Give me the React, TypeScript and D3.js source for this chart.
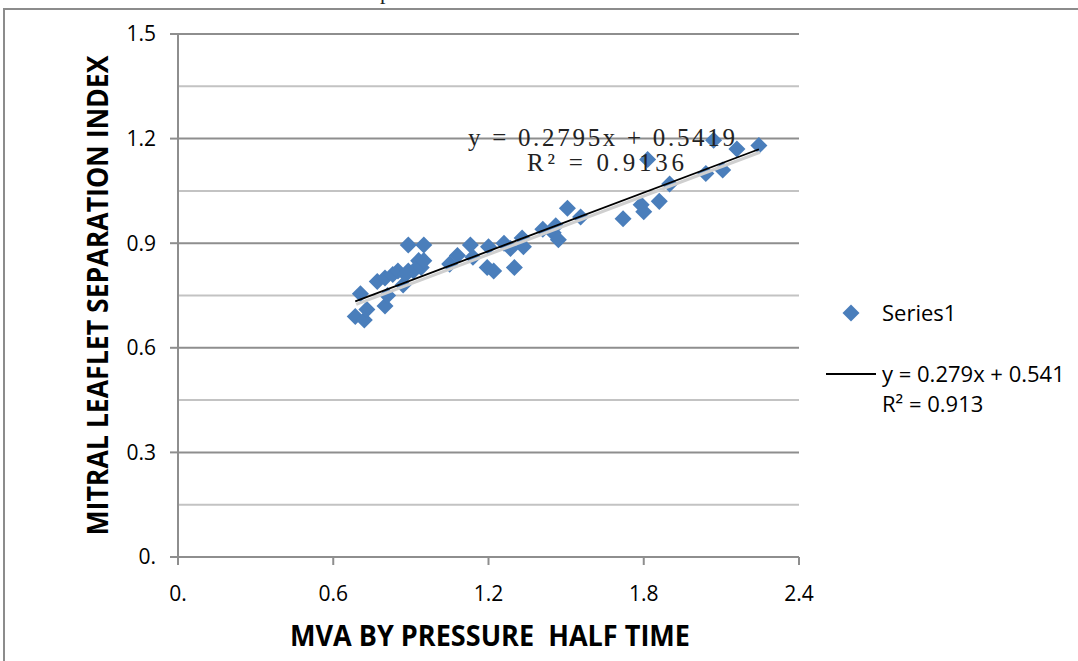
import React from "react";
import * as d3 from "d3";

// MVA by pressure half time (x) vs mitral leaflet separation index (y)
const mvaValues = [
  0.685, 0.72, 0.705, 0.73, 0.80, 0.77, 0.80, 0.81, 0.83, 0.85, 0.87, 0.89, 0.89, 0.91, 0.93,
  0.94, 0.95, 0.95, 0.88, 1.05, 1.08, 1.13, 1.14, 1.20, 1.195, 1.22, 1.26, 1.285, 1.30, 1.33,
  1.335, 1.41, 1.45, 1.46, 1.47, 1.505, 1.556, 1.72, 1.79, 1.80, 1.815, 1.86, 1.90, 2.04, 2.07,
  2.105, 2.16, 2.245,
];
const mlsiValues = [
  0.69, 0.68, 0.755, 0.71, 0.72, 0.79, 0.80, 0.75, 0.81, 0.82, 0.78, 0.895, 0.82, 0.82, 0.85,
  0.83, 0.895, 0.85, 0.81, 0.84, 0.865, 0.895, 0.86, 0.89, 0.83, 0.82, 0.90, 0.885, 0.83, 0.915,
  0.89, 0.94, 0.93, 0.95, 0.91, 1.00, 0.975, 0.97, 1.01, 0.99, 1.14, 1.02, 1.07, 1.10, 1.195,
  1.11, 1.17, 1.18,
];
const xTicks = [0, 0.6, 1.2, 1.8, 2.4];
const xTickLabels = ["0.", "0.6", "1.2", "1.8", "2.4"];
const yTicks = [0, 0.3, 0.6, 0.9, 1.2, 1.5];
const yTickLabels = ["0.", "0.3", "0.6", "0.9", "1.2", "1.5"];
const yMinorGrid = [0.15, 0.45, 0.75, 1.05, 1.35];
const trendSlope = 0.2795;
const trendIntercept = 0.5419;
const chartEquation = "y = 0.2795x + 0.5419";
const chartR2 = "R² = 0.9136";
const legendSeries = "Series1";
const legendEquation = "y = 0.279x + 0.541";
const legendR2 = "R² = 0.913";
const xTitle = "MVA BY PRESSURE  HALF TIME";
const yTitle = "MITRAL LEAFLET SEPARATION INDEX";

const W = 1078;
const H = 661;

export default function App() {
  const x = d3.scaleLinear().domain([0, 2.4]).range([178, 799]);
  const y = d3.scaleLinear().domain([0, 1.5]).range([557, 34]);
  const points = mvaValues.map((v, i) => [v, mlsiValues[i]] as [number, number]);
  const diamond = d3.symbol().type(d3.symbolDiamond2).size(185)();
  const xMin = d3.min(mvaValues) as number;
  const xMax = d3.max(mvaValues) as number;
  const line = d3
    .line<number>()
    .x((d) => x(d))
    .y((d) => y(trendSlope * d + trendIntercept));
  const trendPath = line([xMin, xMax]) as string;
  const font = "'Open Sans', 'Noto Sans', sans-serif";
  const serif = "'Liberation Serif', 'DejaVu Serif', serif";
  const x0 = x(0), x1 = x(2.4), y0 = y(0), y1 = y(1.5);

  return (
    <svg width={W} height={H} style={{ position: "absolute", left: 0, top: 0, background: "#fff" }}>
      <rect x={0} y={0} width={W} height={H} fill="#fff" />
      {/* cut-off caption fragment */}
      <text x={380} y={-1} fontFamily={serif} fontSize={22} fill="#222">p</text>
      {/* outer frame */}
      <path d={`M4,${H} L4,9 L${W},9`} fill="none" stroke="#8c8c8c" strokeWidth={2} />
      {/* minor gridlines */}
      {yMinorGrid.map((v) => (
        <line key={"m" + v} x1={x0} x2={x1} y1={y(v)} y2={y(v)} stroke="#c3c3c3" strokeWidth={2} />
      ))}
      {/* major gridlines */}
      {yTicks.filter((v) => v > 0).map((v) => (
        <line key={"g" + v} x1={x0} x2={x1} y1={y(v)} y2={y(v)} stroke="#8e8e8e" strokeWidth={2} />
      ))}
      {/* axes */}
      <line x1={x0} x2={x0} y1={y1} y2={y0} stroke="#8e8e8e" strokeWidth={2} />
      <line x1={x0} x2={x1} y1={y0} y2={y0} stroke="#8e8e8e" strokeWidth={2} />
      {yTicks.map((v) => (
        <line key={"yt" + v} x1={x0 - 8} x2={x0} y1={y(v)} y2={y(v)} stroke="#8e8e8e" strokeWidth={2} />
      ))}
      {xTicks.map((v) => (
        <line key={"xt" + v} x1={x(v)} x2={x(v)} y1={y0} y2={y0 + 8} stroke="#8e8e8e" strokeWidth={2} />
      ))}
      {yTicks.map((v, i) => (
        <text key={"yl" + v} x={156} y={y(v)} dy="0.35em" textAnchor="end" fontFamily={font} fontSize={21} fill="#000">
          {yTickLabels[i]}
        </text>
      ))}
      {xTicks.map((v, i) => (
        <text key={"xl" + v} x={x(v)} y={601} textAnchor="middle" fontFamily={font} fontSize={21} fill="#000">
          {xTickLabels[i]}
        </text>
      ))}
      {/* points */}
      {points.map((p, i) => (
        <path key={"p" + i} d={diamond} transform={`translate(${x(p[0])},${y(p[1])})`} fill="#4a7ebb" />
      ))}
      {/* trendline with shadow */}
      <path d={trendPath} transform="translate(1,3)" stroke="#cfcfcf" strokeWidth={3} fill="none" />
      <path d={trendPath} stroke="#000" strokeWidth={1.8} fill="none" />
      {/* equation on chart */}
      <text x={468} y={146} fontFamily={serif} fontSize={25} fill="#222" textLength={267} lengthAdjust="spacing">
        {chartEquation}
      </text>
      <text x={527} y={171} fontFamily={serif} fontSize={25} fill="#222" textLength={157} lengthAdjust="spacing">
        {chartR2}
      </text>
      {/* axis titles */}
      <text x={490} y={646} textAnchor="middle" fontFamily={font} fontWeight="bold" fontSize={28} fill="#000"
        textLength={400} lengthAdjust="spacingAndGlyphs" style={{ whiteSpace: "pre" }}>
        {xTitle}
      </text>
      <text transform={`translate(108,${(y0 + y1) / 2}) rotate(-90)`} textAnchor="middle" fontFamily={font}
        fontWeight="bold" fontSize={28} fill="#000" textLength={480} lengthAdjust="spacingAndGlyphs">
        {yTitle}
      </text>
      {/* legend */}
      <path d={diamond} transform="translate(851,313)" fill="#4a7ebb" />
      <text x={882} y={321} fontFamily={font} fontSize={22} fill="#000">{legendSeries}</text>
      <line x1={826} x2={876} y1={374} y2={374} stroke="#000" strokeWidth={1.8} />
      <text x={882} y={382} fontFamily={font} fontSize={22} fill="#000">{legendEquation}</text>
      <text x={882} y={412} fontFamily={font} fontSize={22} fill="#000">{legendR2}</text>
    </svg>
  );
}
